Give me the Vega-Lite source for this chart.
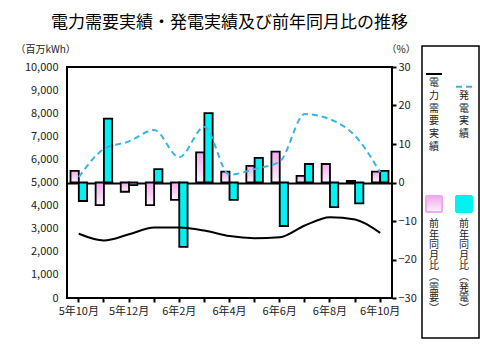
{
  "$schema": "https://vega.github.io/schema/vega-lite/v6.json",
  "width": 325,
  "height": 231,
  "autosize": {"type": "none"},
  "padding": {"left": 67, "top": 67, "right": 88, "bottom": 55},
  "background": "white",
  "title": {
    "text": "電力需要実績・発電実績及び前年同月比の推移",
    "fontSize": 17,
    "fontWeight": "normal",
    "font": "Noto Sans CJK JP",
    "color": "black",
    "anchor": "middle",
    "frame": "group",
    "offset": 12
  },
  "datasets": {
    "lines": [
      {"month": "5年10月", "series": "電力需要実績", "value": 2780},
      {"month": "5年11月", "series": "電力需要実績", "value": 2490},
      {"month": "5年12月", "series": "電力需要実績", "value": 2760},
      {"month": "6年1月", "series": "電力需要実績", "value": 3050},
      {"month": "6年2月", "series": "電力需要実績", "value": 3050},
      {"month": "6年3月", "series": "電力需要実績", "value": 2920},
      {"month": "6年4月", "series": "電力需要実績", "value": 2680},
      {"month": "6年5月", "series": "電力需要実績", "value": 2590},
      {"month": "6年6月", "series": "電力需要実績", "value": 2630},
      {"month": "6年7月", "series": "電力需要実績", "value": 3140},
      {"month": "6年8月", "series": "電力需要実績", "value": 3500},
      {"month": "6年9月", "series": "電力需要実績", "value": 3400},
      {"month": "6年10月", "series": "電力需要実績", "value": 2820},
      {"month": "5年10月", "series": "発電実績", "value": 5230},
      {"month": "5年11月", "series": "発電実績", "value": 6450},
      {"month": "5年12月", "series": "発電実績", "value": 6780},
      {"month": "6年1月", "series": "発電実績", "value": 7270},
      {"month": "6年2月", "series": "発電実績", "value": 6090},
      {"month": "6年3月", "series": "発電実績", "value": 7410},
      {"month": "6年4月", "series": "発電実績", "value": 5340},
      {"month": "6年5月", "series": "発電実績", "value": 5580},
      {"month": "6年6月", "series": "発電実績", "value": 5910},
      {"month": "6年7月", "series": "発電実績", "value": 7960},
      {"month": "6年8月", "series": "発電実績", "value": 7740},
      {"month": "6年9月", "series": "発電実績", "value": 7020},
      {"month": "6年10月", "series": "発電実績", "value": 5440}
    ],
    "bars": [
      {"month": "5年10月", "series": "前年同月比（需要）", "value": 3.0},
      {"month": "5年11月", "series": "前年同月比（需要）", "value": -5.9},
      {"month": "5年12月", "series": "前年同月比（需要）", "value": -2.4},
      {"month": "6年1月", "series": "前年同月比（需要）", "value": -5.9},
      {"month": "6年2月", "series": "前年同月比（需要）", "value": -4.5},
      {"month": "6年3月", "series": "前年同月比（需要）", "value": 7.8},
      {"month": "6年4月", "series": "前年同月比（需要）", "value": 2.8},
      {"month": "6年5月", "series": "前年同月比（需要）", "value": 4.3},
      {"month": "6年6月", "series": "前年同月比（需要）", "value": 8.0},
      {"month": "6年7月", "series": "前年同月比（需要）", "value": 1.7},
      {"month": "6年8月", "series": "前年同月比（需要）", "value": 4.8},
      {"month": "6年9月", "series": "前年同月比（需要）", "value": 0.4},
      {"month": "6年10月", "series": "前年同月比（需要）", "value": 2.8},
      {"month": "5年10月", "series": "前年同月比（発電）", "value": -4.8},
      {"month": "5年11月", "series": "前年同月比（発電）", "value": 16.6},
      {"month": "5年12月", "series": "前年同月比（発電）", "value": -0.7},
      {"month": "6年1月", "series": "前年同月比（発電）", "value": 3.5},
      {"month": "6年2月", "series": "前年同月比（発電）", "value": -16.7},
      {"month": "6年3月", "series": "前年同月比（発電）", "value": 18.0},
      {"month": "6年4月", "series": "前年同月比（発電）", "value": -4.5},
      {"month": "6年5月", "series": "前年同月比（発電）", "value": 6.4},
      {"month": "6年6月", "series": "前年同月比（発電）", "value": -11.3},
      {"month": "6年7月", "series": "前年同月比（発電）", "value": 4.8},
      {"month": "6年8月", "series": "前年同月比（発電）", "value": -6.4},
      {"month": "6年9月", "series": "前年同月比（発電）", "value": -5.4},
      {"month": "6年10月", "series": "前年同月比（発電）", "value": 3.0}
    ]
  },
  "layer": [
    {
      "data": {"name": "bars"},
      "mark": {"type": "bar", "stroke": "black", "strokeWidth": 1.8},
      "encoding": {
        "x": {
          "field": "month",
          "type": "ordinal",
          "sort": ["5年10月","5年11月","5年12月","6年1月","6年2月","6年3月","6年4月","6年5月","6年6月","6年7月","6年8月","6年9月","6年10月"],
          "scale": {"paddingInner": 0.34, "paddingOuter": 0.14},
          "axis": {
            "title": null,
            "labelAngle": 0,
            "labelExpr": "indexof(['5年10月','5年12月','6年2月','6年4月','6年6月','6年8月','6年10月'], datum.value) >= 0 ? datum.label : ''",
            "domain": false,
            "ticks": true,
            "tickSize": 4,
            "tickWidth": 2,
            "tickColor": "black",
            "labelPadding": 3,
            "labelFontSize": 11,
            "labelColor": "#222",
            "labelFont": "Noto Sans CJK JP",
            "grid": false
          }
        },
        "xOffset": {"field": "series", "type": "nominal", "sort": ["前年同月比（需要）", "前年同月比（発電）"]},
        "y": {
          "field": "value",
          "type": "quantitative",
          "scale": {"domain": [-30, 30], "nice": false, "zero": false},
          "axis": {
            "orient": "right",
            "values": [-30, -20, -10, 0, 10, 20, 30],
            "labelOverlap": false,
            "grid": false,
            "domain": false,
            "ticks": true,
            "tickSize": 4,
            "tickWidth": 2,
            "tickColor": "black",
            "labelPadding": 2,
            "labelFontSize": 11,
            "labelColor": "#222",
            "labelFont": "Noto Sans CJK JP",
            "title": "（%）",
            "titleAngle": 0,
            "titleAlign": "left",
            "titleBaseline": "middle",
            "titleX": -6,
            "titleY": -18,
            "titleFontSize": 10,
            "titleFontWeight": "normal",
            "titleColor": "#222",
            "titleFont": "Noto Sans CJK JP"
          }
        },
        "fill": {
          "condition": {
            "test": "datum.series === '前年同月比（需要）'",
            "value": {"gradient": "linear", "x1": 0, "y1": 0, "x2": 0, "y2": 1, "stops": [{"offset": 0, "color": "#f1a9ed"}, {"offset": 1, "color": "#fdf2fd"}]}
          },
          "value": "#00f2f2"
        }
      }
    },
    {
      "data": {"name": "lines"},
      "encoding": {
        "x": {
          "field": "month",
          "type": "ordinal",
          "sort": ["5年10月","5年11月","5年12月","6年1月","6年2月","6年3月","6年4月","6年5月","6年6月","6年7月","6年8月","6年9月","6年10月"]
        },
        "y": {
          "field": "value",
          "type": "quantitative",
          "scale": {"domain": [0, 10000], "nice": false},
          "axis": {
            "orient": "left",
            "values": [0, 1000, 2000, 3000, 4000, 5000, 6000, 7000, 8000, 9000, 10000],
            "labelExpr": "format(datum.value, ',')",
            "labelOverlap": false,
            "grid": true,
            "gridColor": {"condition": {"test": "datum.value === 5000", "value": "black"}, "value": null},
            "gridWidth": 2,
            "gridOpacity": 1,
            "domain": false,
            "ticks": false,
            "labelPadding": 9,
            "labelFontSize": 11,
            "labelColor": "#222",
            "labelFont": "Noto Sans CJK JP",
            "title": "（百万kWh）",
            "titleAngle": 0,
            "titleAlign": "left",
            "titleBaseline": "middle",
            "titleX": -52,
            "titleY": -18,
            "titleFontSize": 10,
            "titleFontWeight": "normal",
            "titleColor": "#222",
            "titleFont": "Noto Sans CJK JP"
          }
        },
        "color": {
          "field": "series",
          "type": "nominal",
          "scale": {
            "domain": ["電力需要実績", "前年同月比（需要）", "発電実績", "前年同月比（発電）"],
            "range": ["black", "#f1a9ed", "#3ab4e4", "#00f2f2"]
          },
          "legend": {
            "orient": "none",
            "legendX": 355,
            "legendY": -21,
            "title": null,
            "columns": 2,
            "padding": 3,
            "strokeColor": "black",
            "symbolSize": 256,
            "symbolStrokeWidth": 2,
            "columnPadding": 6,
            "rowPadding": 40,
            "labelFontSize": 10,
            "labelFont": "Noto Sans CJK JP",
            "labelColor": "#222",
            "labelLimit": 300,
            "labelExpr": "split(replace(replace(datum.label, '（', '︵'), '）', '︶') + (indexof(datum.label, '前年') >= 0 ? '  ' : ''), '')",
            "encode": {
              "legend": {"update": {"strokeWidth": {"value": 1.5}}},
              "symbols": {
                "update": {
                  "shape": {"signal": "indexof(datum.value, '前年') >= 0 ? 'square' : 'stroke'"},
                  "stroke": {"signal": "datum.value == '発電実績' ? '#3ab4e4' : 'black'"},
                  "fill": [
                    {"test": "datum.value == '前年同月比（需要）'", "value": {"gradient": "linear", "x1": 0, "y1": 0, "x2": 0, "y2": 1, "stops": [{"offset": 0, "color": "#f1a9ed"}, {"offset": 1, "color": "#fdf2fd"}]}},
                    {"test": "datum.value == '前年同月比（発電）'", "value": "#00f2f2"},
                    {"value": "transparent"}
                  ],
                  "strokeDash": {"signal": "datum.value == '発電実績' ? [6, 4] : [1, 0]"},
                  "opacity": {"value": 1},
                  "y": {"signal": "indexof(datum.value, '前年') >= 0 ? 8 : 25"}
                }
              },
              "labels": {
                "update": {
                  "x": {"signal": "datum.offset * 0.5"},
                  "y": {"signal": "indexof(datum.value, '前年') >= 0 ? 23 : 29"},
                  "align": {"value": "center"},
                  "baseline": {"value": "top"},
                  "lineHeight": {"signal": "indexof(datum.value, '前年') >= 0 ? 10.6 : 12.8"}
                }
              }
            }
          }
        }
      },
      "layer": [
        {
          "transform": [{"filter": "datum.series == '電力需要実績'"}],
          "mark": {"type": "line", "interpolate": "monotone", "strokeWidth": 2}
        },
        {
          "transform": [{"filter": "datum.series == '発電実績'"}],
          "mark": {"type": "line", "interpolate": "monotone", "strokeWidth": 2, "strokeDash": [6, 4]}
        }
      ]
    }
  ],
  "resolve": {"scale": {"y": "independent"}},
  "config": {
    "font": "Noto Sans CJK JP",
    "view": {"stroke": "black", "strokeWidth": 2}
  }
}
